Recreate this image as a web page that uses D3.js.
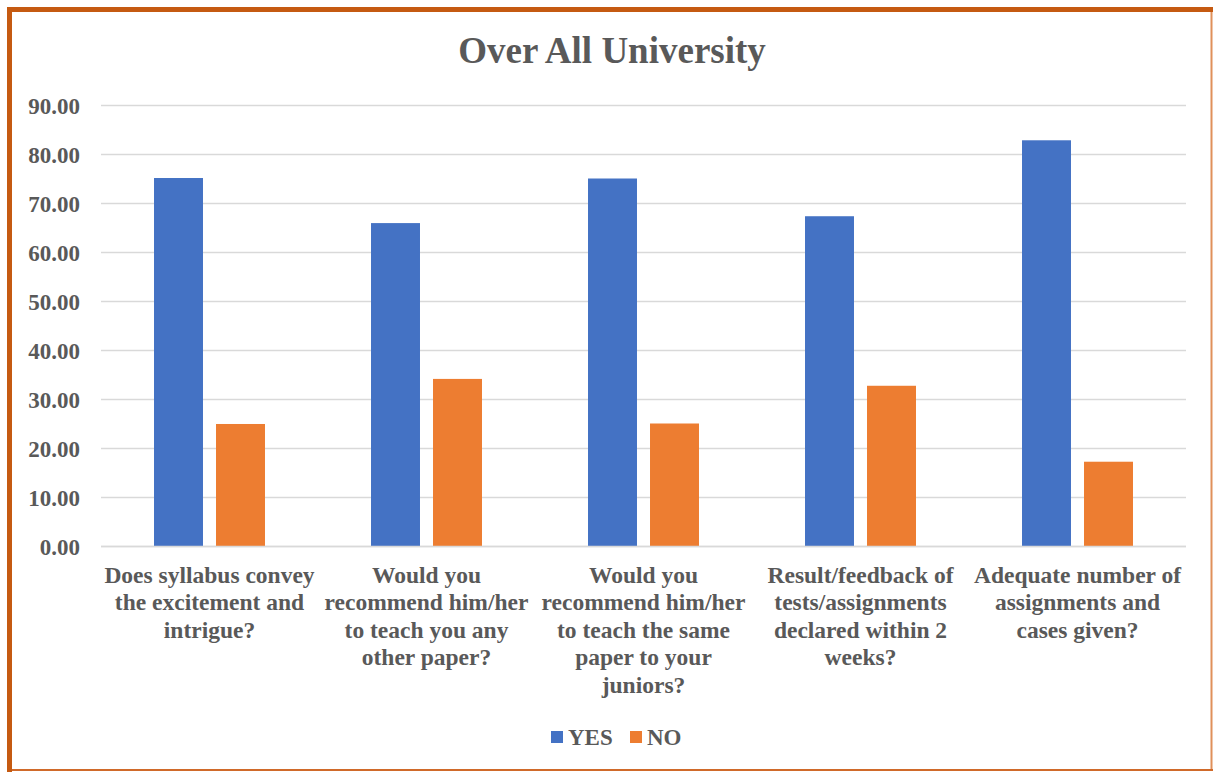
<!DOCTYPE html>
<html><head><meta charset="utf-8">
<script src="https://cdn.jsdelivr.net/npm/d3@7"></script>
<style>html,body{margin:0;padding:0;background:#fff;}svg{display:block;}</style>
</head><body>
<script>
const categories = [
  ["Does syllabus convey", "the excitement and", "intrigue?"],
  ["Would you", "recommend him/her", "to teach you any", "other paper?"],
  ["Would you", "recommend him/her", "to teach the same", "paper to your", "juniors?"],
  ["Result/feedback of", "tests/assignments", "declared within 2", "weeks?"],
  ["Adequate number of", "assignments and", "cases given?"]
];
const seriesNames = ["YES", "NO"];
const yesValues = [75.1, 65.9, 75.0, 67.3, 82.8];
const noValues = [24.9, 34.1, 25.0, 32.7, 17.2];
const yTicks = [0, 10, 20, 30, 40, 50, 60, 70, 80, 90];
const colors = ["#4472C4", "#ED7D31"];

const W = 1213, H = 772;
const svg = d3.select("body").append("svg").attr("width", W).attr("height", H);
const font = "'Liberation Serif','Times New Roman',serif";
const textColor = "#595959";

// border
svg.append("rect").attr("x", 0).attr("y", 0).attr("width", W).attr("height", H).attr("fill", "#fff");
svg.append("line").attr("x1", 1211.5).attr("x2", 1211.5).attr("y1", 8).attr("y2", 771).attr("stroke", "#E0905A").attr("stroke-width", 2);
svg.append("line").attr("x1", 7).attr("x2", 1213).attr("y1", 770).attr("y2", 770).attr("stroke", "#D06A2A").attr("stroke-width", 2);
svg.append("rect").attr("x", 7).attr("y", 7).attr("width", 1206).attr("height", 5).attr("fill", "#C55A11");
svg.append("rect").attr("x", 7).attr("y", 7).attr("width", 5).attr("height", 765).attr("fill", "#C55A11");

const x0 = d3.scaleBand().domain(d3.range(categories.length)).range([101, 1186]).paddingInner(0).paddingOuter(0);
const y = d3.scaleLinear().domain([0, 90]).range([546, 105]);
const x1 = d3.scaleBand().domain(seriesNames).range([0, x0.bandwidth()]).paddingInner(0.21).paddingOuter(0.855);

// grid
svg.append("g").selectAll("line").data(yTicks).join("line")
  .attr("x1", 101).attr("x2", 1186)
  .attr("y1", d => Math.round(y(d)) + 0.5).attr("y2", d => Math.round(y(d)) + 0.5)
  .attr("stroke", "#D9D9D9").attr("stroke-width", 1.5);

// y axis labels
const yAxis = d3.axisLeft(y).tickValues(yTicks).tickFormat(d3.format(".2f")).tickSize(0).tickPadding(0);
const ya = svg.append("g").attr("transform", "translate(80,0)").call(yAxis);
ya.select(".domain").remove();
ya.selectAll("text").attr("font-family", font).attr("font-weight", "bold").attr("font-size", "23px").attr("fill", textColor).attr("dy", "0.35em");

// bars
const data = categories.map((c, i) => ({i, vals: [yesValues[i], noValues[i]]}));
const g = svg.append("g").selectAll("g").data(data).join("g").attr("transform", d => `translate(${x0(d.i)},0)`);
g.selectAll("rect").data(d => d.vals.map((v, k) => ({k, v}))).join("rect")
  .attr("x", d => x1(seriesNames[d.k]))
  .attr("width", x1.bandwidth())
  .attr("y", d => y(d.v))
  .attr("height", d => y(0) - y(d.v))
  .attr("fill", d => colors[d.k]);

// x axis line
svg.append("line").attr("x1", 101).attr("x2", 1186).attr("y1", 546.5).attr("y2", 546.5).attr("stroke", "#D9D9D9").attr("stroke-width", 1.5);

// category labels
const xl = svg.append("g");
categories.forEach((lines, i) => {
  const t = xl.append("text").attr("text-anchor", "middle")
    .attr("font-family", font).attr("font-weight", "bold").attr("font-size", "23.5px").attr("fill", textColor);
  lines.forEach((ln, j) => {
    t.append("tspan").attr("x", x0(i) + x0.bandwidth() / 2).attr("y", 583 + j * 27.4).text(ln);
  });
});

// title
svg.append("text").attr("x", 612).attr("y", 63).attr("text-anchor", "middle")
  .attr("font-family", font).attr("font-weight", "bold").attr("font-size", "37px").attr("fill", textColor)
  .text("Over All University");

// legend
const legend = svg.append("g");
const legItems = [{name: seriesNames[0], x: 551, c: colors[0]}, {name: seriesNames[1], x: 630, c: colors[1]}];
legItems.forEach(it => {
  legend.append("rect").attr("x", it.x).attr("y", 731).attr("width", 12).attr("height", 12).attr("fill", it.c);
  legend.append("text").attr("x", it.x + 17).attr("y", 745).attr("font-family", font).attr("font-weight", "bold")
    .attr("font-size", "23px").attr("fill", textColor).text(it.name);
});
</script>
</body></html>
